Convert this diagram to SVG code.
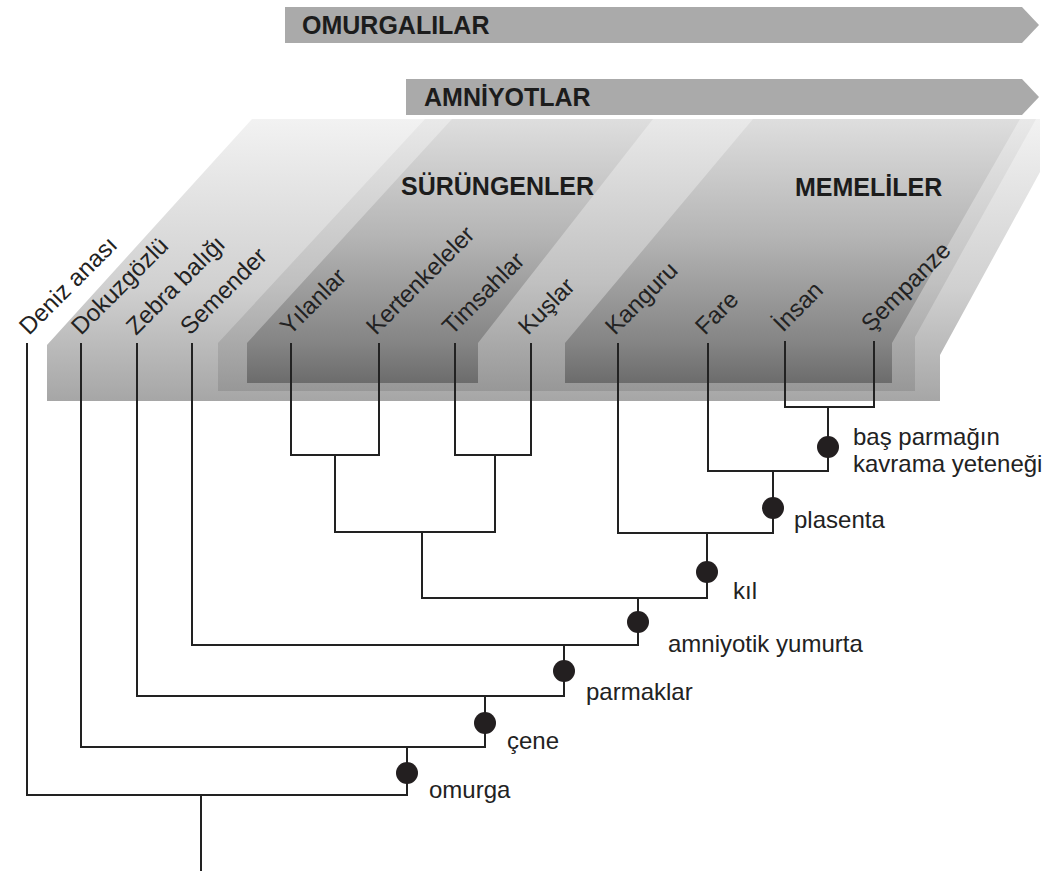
<svg xmlns="http://www.w3.org/2000/svg" width="1056" height="871" viewBox="0 0 1056 871">
<defs>
<linearGradient id="gA" gradientUnits="userSpaceOnUse" x1="0" y1="119" x2="0" y2="401">
<stop offset="0" stop-color="#f2f2f2"/><stop offset="0.6" stop-color="#d0d0d0"/><stop offset="1" stop-color="#a6a6a6"/>
</linearGradient>
<linearGradient id="gB" gradientUnits="userSpaceOnUse" x1="0" y1="119" x2="0" y2="392">
<stop offset="0" stop-color="#e9e9e9"/><stop offset="0.6" stop-color="#c0c0c0"/><stop offset="1" stop-color="#979797"/>
</linearGradient>
<linearGradient id="gC" gradientUnits="userSpaceOnUse" x1="0" y1="119" x2="0" y2="383">
<stop offset="0" stop-color="#dedede"/><stop offset="0.45" stop-color="#b4b4b4"/><stop offset="0.85" stop-color="#848484"/><stop offset="1" stop-color="#6c6c6c"/>
</linearGradient>
</defs>
<style>
.t{font-family:"Liberation Sans",Arial,Helvetica,sans-serif;font-size:24px;fill:#222}
.g{font-family:"Liberation Sans",Arial,Helvetica,sans-serif;font-size:25px;font-weight:bold;fill:#1c1c1c}
.ln{stroke:#222;stroke-width:2;fill:none;stroke-linecap:square}
.dot{fill:#231f20}
.ban{fill:#aaaaaa}
</style>
<rect width="1056" height="871" fill="#ffffff"/>

<g id="bands">
<path d="M47,401 V345 L252,119 H1040 V172 L940,355 V401 Z" fill="url(#gA)"/>
<path d="M218,391 V343 L425,119 H1036 L915,337 V391 Z" fill="url(#gB)"/>
<path id="reptile-band" d="M247,383 V343 L452,119 H653 L478,343 V383 Z" fill="url(#gC)"/>
<path id="mammal-band" d="M565,383 V343 L753,119 H1020 L892,343 V383 Z" fill="url(#gC)"/>
</g>

<g id="clade-omurgalilar">
<path class="ban" d="M285,7 H1022 L1039,25 L1022,43 H285 Z"/>
<text class="g" x="302" y="34">OMURGALILAR</text>
</g>
<g id="clade-amniyotlar">
<path class="ban" d="M406,79 H1022 L1039,97 L1022,115 H406 Z"/>
<text class="g" x="424" y="106">AMNİYOTLAR</text>
</g>
<g id="clade-surungenler"><text class="g" x="401" y="195">SÜRÜNGENLER</text></g>
<g id="clade-memeliler"><text class="g" x="795" y="196">MEMELİLER</text></g>

<g id="connectors">
<path class="ln" d="M27,344 V795 H407"/>
<path class="ln" d="M81,344 V747 H485"/>
<path class="ln" d="M137,344 V696 H564"/>
<path class="ln" d="M192,344 V645 H638"/>
<path class="ln" d="M291,344 V455 H379 V344"/>
<path class="ln" d="M455,344 V455 H531 V344"/>
<path class="ln" d="M335,455 V532 H495 V455"/>
<path class="ln" d="M422,532 V598 H707"/>
<path class="ln" d="M618,344 V533 H773"/>
<path class="ln" d="M708,344 V471 H828"/>
<path class="ln" d="M785,342 V407 H874 V342"/>
<path class="ln" d="M828,407 V471"/>
<path class="ln" d="M773,471 V533"/>
<path class="ln" d="M707,533 V598"/>
<path class="ln" d="M638,598 V645"/>
<path class="ln" d="M564,645 V696"/>
<path class="ln" d="M485,696 V747"/>
<path class="ln" d="M407,747 V795"/>
<path class="ln" d="M201,795 V871"/>
</g>

<g id="leaf-deniz-anasi"><text class="t" transform="translate(29,336) rotate(-45)">Deniz anası</text></g>
<g id="leaf-dokuzgozlu"><text class="t" transform="translate(81,336) rotate(-45)">Dokuzgözlü</text></g>
<g id="leaf-zebra-baligi"><text class="t" transform="translate(136,336) rotate(-45)">Zebra balığı</text></g>
<g id="leaf-semender"><text class="t" transform="translate(190,336) rotate(-45)">Semender</text></g>
<g id="leaf-yilanlar"><text class="t" transform="translate(290,336) rotate(-45)">Yılanlar</text></g>
<g id="leaf-kertenkeleler"><text class="t" transform="translate(376,336) rotate(-45)">Kertenkeleler</text></g>
<g id="leaf-timsahlar"><text class="t" transform="translate(452,336) rotate(-45)">Timsahlar</text></g>
<g id="leaf-kuslar"><text class="t" transform="translate(528,336) rotate(-45)">Kuşlar</text></g>
<g id="leaf-kanguru"><text class="t" transform="translate(615,336) rotate(-45)">Kanguru</text></g>
<g id="leaf-fare"><text class="t" transform="translate(705,336) rotate(-45)">Fare</text></g>
<g id="leaf-insan"><text class="t" transform="translate(783,333) rotate(-45)">İnsan</text></g>
<g id="leaf-sempanze"><text class="t" transform="translate(871,333) rotate(-45)">Şempanze</text></g>

<g id="trait-bas-parmak"><circle class="dot" cx="828" cy="447" r="11"/><text class="t" x="853" y="445">baş parmağın</text><text class="t" x="853" y="472">kavrama yeteneği</text></g>
<g id="trait-plasenta"><circle class="dot" cx="773" cy="508" r="11"/><text class="t" x="794" y="528">plasenta</text></g>
<g id="trait-kil"><circle class="dot" cx="707" cy="572" r="11"/><text class="t" x="733" y="599">kıl</text></g>
<g id="trait-amniyotik"><circle class="dot" cx="638" cy="622" r="11"/><text class="t" x="668" y="652">amniyotik yumurta</text></g>
<g id="trait-parmaklar"><circle class="dot" cx="564" cy="671" r="11"/><text class="t" x="586" y="700">parmaklar</text></g>
<g id="trait-cene"><circle class="dot" cx="485" cy="723" r="11"/><text class="t" x="507" y="749">çene</text></g>
<g id="trait-omurga"><circle class="dot" cx="407" cy="773" r="11"/><text class="t" x="429" y="798">omurga</text></g>
</svg>
